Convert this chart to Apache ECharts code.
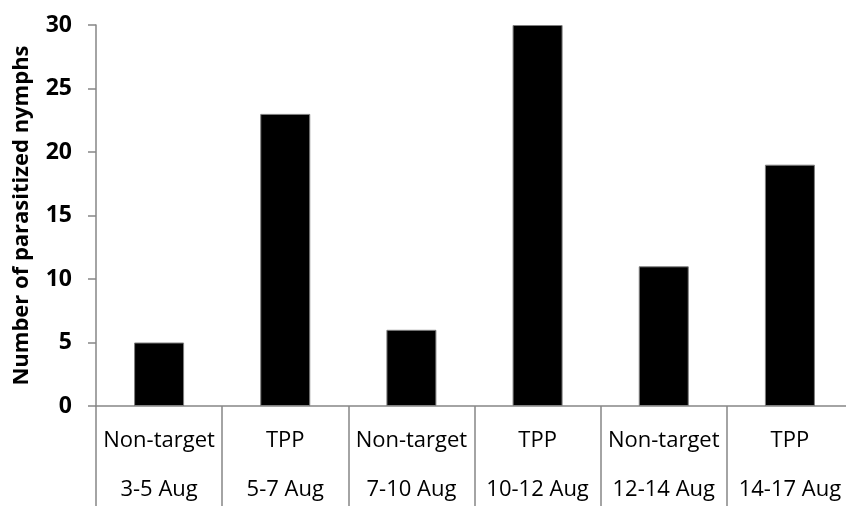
<!DOCTYPE html>
<html>
<head>
<meta charset="utf-8">
<script src="https://cdn.jsdelivr.net/npm/echarts@6/dist/echarts.min.js"></script>
<style>
html,body{margin:0;padding:0;background:#fff;}
#chart{width:846px;height:506px;}
</style>
</head>
<body>
<div id="chart"></div>
<script>
var treatments = ['Non-target', 'TPP', 'Non-target', 'TPP', 'Non-target', 'TPP'];
var periods = ['3-5 Aug', '5-7 Aug', '7-10 Aug', '10-12 Aug', '12-14 Aug', '14-17 Aug'];
var nymphs = [5, 23, 6, 30, 11, 19];
var yTicks = [0, 5, 10, 15, 20, 25, 30];

var categories = treatments.map(function (t, i) { return t + '\n' + periods[i]; });

var chart = echarts.init(document.getElementById('chart'), null, {renderer: 'canvas'});
chart.setOption({
  animation: false,
  backgroundColor: '#ffffff',
  grid: {left: 96, top: 25, height: 381, width: 757, containLabel: false, outerBoundsMode: 'none'},
  xAxis: {
    type: 'category',
    data: categories,
    boundaryGap: true,
    axisLine: {show: true, lineStyle: {color: '#868686', width: 1.5}},
    axisTick: {show: true, length: 100, lineStyle: {color: '#868686', width: 1.5}},
    axisLabel: {
      interval: 0,
      margin: 10,
      color: '#000',
      fontFamily: 'Open Sans',
      fontSize: 22,
      lineHeight: 49
    }
  },
  yAxis: {
    type: 'value',
    min: yTicks[0],
    max: yTicks[yTicks.length - 1],
    interval: 5,
    name: 'Number of parasitized nymphs',
    nameLocation: 'middle',
    nameRotate: 90,
    nameGap: 63,
    nameTextStyle: {color: '#000', fontFamily: 'Open Sans', fontWeight: 'bold', fontSize: 22},
    axisLine: {show: true, lineStyle: {color: '#868686', width: 1.5}},
    axisTick: {show: true, length: 8, lineStyle: {color: '#868686', width: 1.5}},
    splitLine: {show: false},
    axisLabel: {
      margin: 24,
      color: '#000',
      fontFamily: 'Open Sans',
      fontWeight: 'bold',
      fontSize: 23
    }
  },
  series: [{
    type: 'bar',
    data: nymphs,
    barWidth: 50,
    itemStyle: {color: '#000', borderColor: '#7f7f7f', borderWidth: 1}
  }]
});
</script>
</body>
</html>
